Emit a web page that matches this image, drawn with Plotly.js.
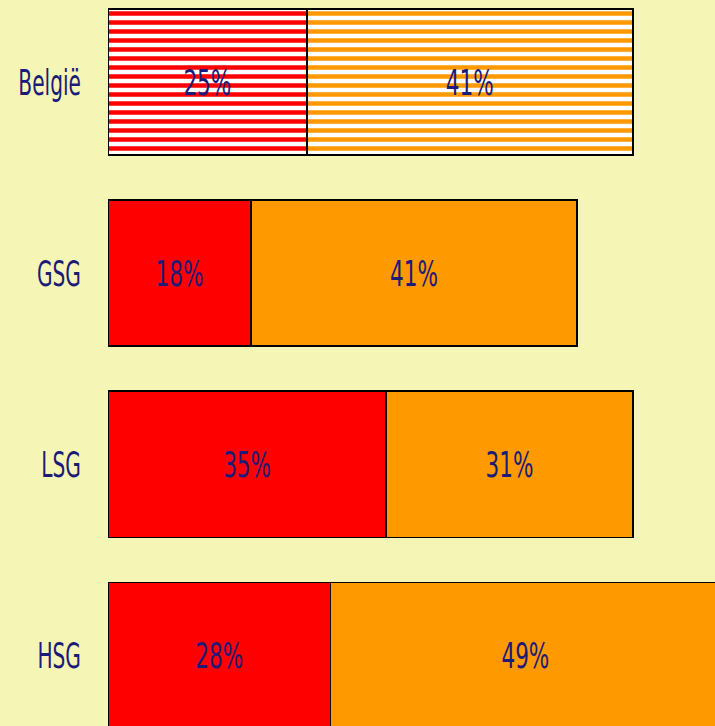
<!DOCTYPE html>
<html>
<head>
<meta charset="utf-8">
<script src="https://cdn.plot.ly/plotly-3.0.1.min.js"></script>
<style>html,body{margin:0;padding:0;background:#f5f6b5;}</style>
</head>
<body>
<div id="chart" style="width:715px;height:726px;"></div>
<script>
const categories = ['België', 'GSG', 'LSG', 'HSG'];
const redValues = [25, 18, 35, 28];
const orangeValues = [41, 41, 31, 49];
const patternShapes = ['-', '', '', ''];

const txtColor = '#1b1b7a';
const fontFam = '"DejaVu Sans", sans-serif';

function mkTrace(vals, color) {
  return {
    type: 'bar',
    orientation: 'h',
    y: categories,
    x: vals,
    text: vals.map(v => v + '%'),
    textposition: 'inside',
    insidetextanchor: 'middle',
    textangle: 0,
    constraintext: 'none',
    textfont: {family: fontFam, size: 36, color: txtColor},
    width: 0.764,
    marker: {
      color: color,
      line: {color: '#000000', width: 1.6},
      pattern: {
        shape: patternShapes,
        fillmode: 'replace',
        bgcolor: categories.map(() => '#ffffff'),
        fgcolor: categories.map(() => color),
        size: 9,
        solidity: 0.5
      }
    },
    hoverinfo: 'skip',
    cliponaxis: true
  };
}

const data = [mkTrace(redValues, '#ff0000'), mkTrace(orangeValues, '#ff9900')];

const layout = {
  width: 715,
  height: 726,
  barmode: 'stack',
  showlegend: false,
  paper_bgcolor: '#f5f6b5',
  plot_bgcolor: '#f5f6b5',
  margin: {l: 108, r: 0, t: 0, b: 0, pad: 0},
  font: {family: fontFam, color: txtColor},
  xaxis: {range: [0, 76.35], showticklabels: false, showgrid: false, zeroline: false, showline: false, fixedrange: true},
  yaxis: {
    type: 'category',
    categoryorder: 'array',
    categoryarray: categories,
    range: [3.369, -0.429],
    showgrid: false, zeroline: false, showline: false,
    ticks: '',
    ticklabelstandoff: 26,
    tickfont: {family: fontFam, size: 36, color: txtColor},
    fixedrange: true
  },
  hovermode: false
};

function condense(sel, ratio) {
  document.querySelectorAll(sel).forEach(t => {
    const len = t.getComputedTextLength();
    t.setAttribute('textLength', (len * ratio).toFixed(2));
    t.setAttribute('lengthAdjust', 'spacingAndGlyphs');
  });
}

Plotly.newPlot('chart', data, layout, {displayModeBar: false, staticPlot: true}).then(() => {
  condense('#chart .ytick text', 0.56);
  condense('#chart text.bartext', 0.6);
});
</script>
</body>
</html>
